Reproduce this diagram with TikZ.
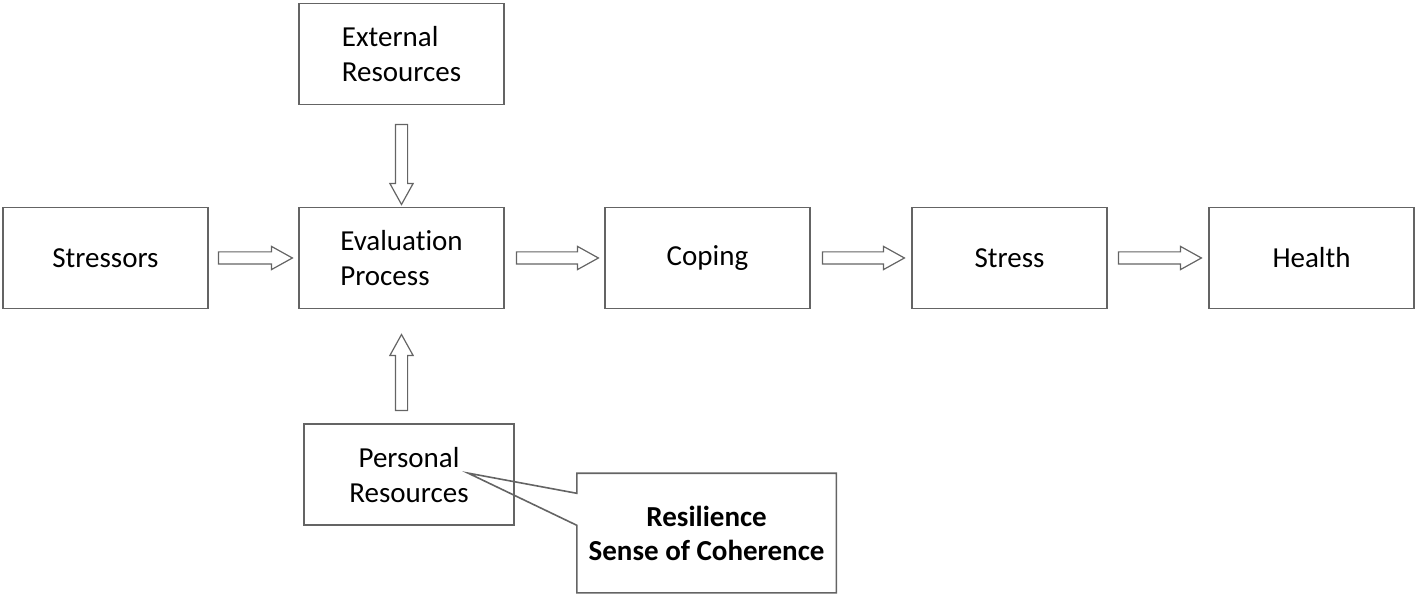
\documentclass[tikz,border=0pt]{standalone}
\usepackage{fontspec}
\setmainfont{Carlito}[Ligatures=CommonOff]
\usetikzlibrary{positioning}
\usetikzlibrary{shapes.arrows}
\definecolor{boxgray}{RGB}{100,100,100}
\tikzset{
	box/.style={
		rectangle,
		draw=boxgray,
		line width=0.8pt,
		minimum width=102.5pt,
		minimum height=50.5pt,
		inner sep=0pt,
		font=\fontsize{14.5pt}{17.5pt}\selectfont
	},
	fatarrow/.style={
		single arrow,
		draw=boxgray,
		line width=0.6pt,
		minimum width=11pt,
		single arrow head extend=2.75pt,
		single arrow tip angle=58,
		inner xsep=0pt,
		inner ysep=2.75pt
	}
}
\begin{document}
\begin{tikzpicture}
	\useasboundingbox (0,0) rectangle (709pt,-298.5pt);
	% main chain
	\node[box] (Stressors) at (52.75pt,-129pt) {Stressors};
	\node[box, align=left, right=44.7pt of Stressors] (Eval) {Evaluation\\Process};
	\node[box, right=49.7pt of Eval] (Coping) {Coping};
	\node[box, minimum width=97.5pt, right=50.2pt of Coping] (Stress) {Stress};
	\node[box, right=50.2pt of Stress] (Health) {Health};
	% resources
	\node[box, align=left, above=50.7pt of Eval] (External) {External\\Resources};
	\node[box, align=center, minimum width=105pt, below=57pt of Eval, xshift=3.75pt] (Personal) {Personal\\Resources};
	\node[box, draw=none, align=center, minimum width=129pt, minimum height=59pt, font=\fontsize{14.5pt}{17pt}\selectfont\bfseries, anchor=north west] (Res) at ([xshift=31pt,yshift=-25pt]Personal.north east) {Resilience\\Sense of Coherence};
	\coordinate (tip) at ([xshift=29.5pt,yshift=0.75pt]Personal.center);
	\draw[boxgray, line width=0.8pt] ([yshift=-10pt]Res.north west) -- (tip) -- ([yshift=-26pt]Res.north west) -- (Res.south west) -- (Res.south east) -- (Res.north east) -- (Res.north west) -- cycle;
	
	% block arrows
	\node[fatarrow, minimum height=37pt, anchor=tail] (a1) at ([xshift=4.5pt]Stressors.east) {};
	\node[fatarrow, minimum height=41pt, anchor=tail] (a2) at ([xshift=5.5pt]Eval.east) {};
	\node[fatarrow, minimum height=41pt, anchor=tail] (a3) at ([xshift=5.5pt]Coping.east) {};
	\node[fatarrow, minimum height=41.5pt, anchor=tail] (a4) at ([xshift=5pt]Stress.east) {};
	\node[fatarrow, minimum height=40pt, rotate=-90, anchor=tip] (down) at ([yshift=0.5pt]Eval.north) {};
	\node[fatarrow, minimum height=38pt, rotate=90, anchor=tip] (up) at ([yshift=-12pt]Eval.south) {};
\end{tikzpicture}
\end{document}
